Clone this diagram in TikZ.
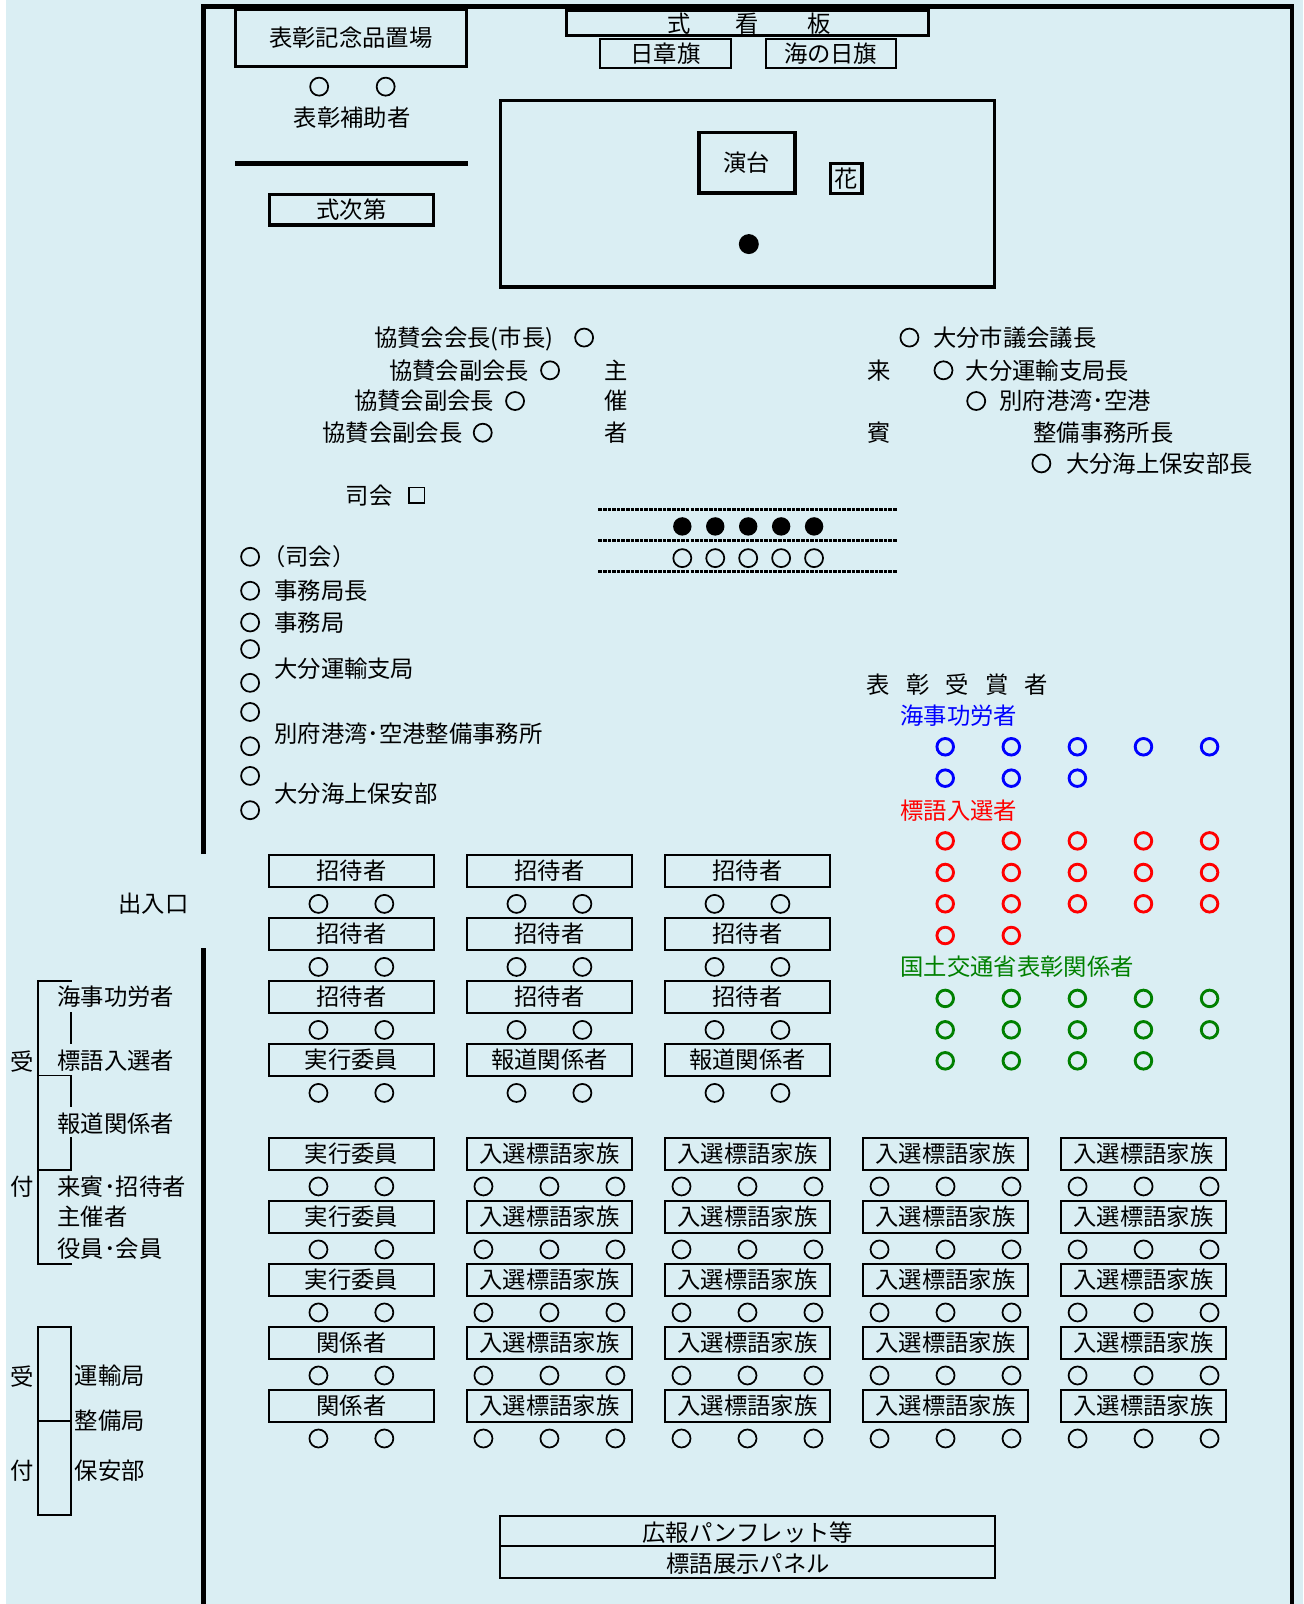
\documentclass[tikz,border=0pt]{standalone}
\usepackage{fontspec}
\setmainfont{Noto Sans CJK JP}
\definecolor{bgblue}{RGB}{218,238,243}
\definecolor{awblue}{RGB}{0,0,255}
\definecolor{awred}{RGB}{255,0,0}
\definecolor{awgreen}{RGB}{0,128,0}
\newcommand\jfs{\fontsize{22.8pt}{27pt}\selectfont}
\tikzset{
  txt/.style={inner sep=0pt, text height=19pt, text depth=1.6pt, font=\jfs},
  wall/.style={line width=4.3pt, line join=miter},
  thickbox/.style={draw, line width=3.3pt, txt},
  thinbox/.style={draw, line width=2pt, txt},
  seat/.style={draw, line width=2pt, minimum width=162pt, minimum height=31pt, txt},
  pers/.style={circle, draw, line width=1.7pt, minimum size=17.6pt, inner sep=0pt},
  award/.style={circle, draw, line width=2.8pt, minimum size=16.2pt, inner sep=0pt},
  fdot/.style={circle, fill, minimum size=18pt, inner sep=0pt},
  rope/.style={line width=3pt, dash pattern=on 3.5pt off 1pt},
  brk/.style={line width=1.8pt},
}
\begin{document}
\begin{tikzpicture}[x=1pt,y=-1pt]
\useasboundingbox (0,0) rectangle (1274,1568);
\fill[white] (0,0) rectangle (1274,1568);
\fill[bgblue] (6,0) rectangle (1274,1568);

% walls
\draw[wall] (198.8,835) -- (198.8,6.2) -- (1263.2,6.2) -- (1263.2,1568);
\draw[wall] (198.8,927) -- (198.8,1568);

% top-left area
\node[thickbox, minimum width=226pt, minimum height=56pt] (kinen) at (343,37) {表彰記念品置場};
\node[pers] (hojo1) at (312,84.7) {};
\node[pers] (hojo2) at (377,84.7) {};
\node[txt] (hojo) at (344.2,114.7) {表彰補助者};
\draw[line width=4.5pt] (229.8,159.7) -- (457.3,159.7);
\node[thickbox, minimum width=160pt, minimum height=30pt] (shidai) at (343.5,205) {式次第};

% signboard and flags
\node[draw, line width=3pt, minimum width=354pt, minimum height=25pt, inner sep=0pt] (kanban) at (730.4,22.3) {};
\node[txt] (k1) at (663.7,22.8) {式};
\node[txt] (k2) at (730.4,22.8) {看};
\node[txt] (k3) at (801,22.8) {板};
\node[thinbox, minimum width=127.7pt, minimum height=28pt] (nissho) at (650.5,52.5) {日章旗};
\node[thinbox, minimum width=127.2pt, minimum height=28pt] (uminohi) at (812,52.5) {海の日旗};

% stage
\node[draw, line width=3.5pt, minimum width=482.7pt, minimum height=182.2pt, inner sep=0pt] (stage) at (730.8,189.4) {};
\node[thickbox, minimum width=94pt, minimum height=59pt] (entai) at (730.2,159) {演台};
\node[draw, line width=3.5pt, minimum width=30.7pt, minimum height=29.2pt, txt] (hana) at (827.1,174.6) {花};
\node[fdot, minimum size=19.5pt] (speaker) at (732,238.6) {};

% hosts (left)
\node[txt, anchor=east] (h1) at (541,330) {協賛会会長(市長)};
\node[pers] (h1c) at (571,330) {};
\node[txt, anchor=east] (h2) at (517.5,362) {協賛会副会長};
\node[pers] (h2c) at (537.7,362) {};
\node[txt, anchor=east] (h3) at (483.3,392) {協賛会副会長};
\node[pers] (h3c) at (503.5,392) {};
\node[txt, anchor=east] (h4) at (452.4,423) {協賛会副会長};
\node[pers] (h4c) at (471.9,423) {};
\node[txt] (sh1) at (602.3,362) {主};
\node[txt] (sh2) at (602.3,392) {催};
\node[txt] (sh3) at (602.3,423) {者};

% guests (right)
\node[txt] (rh1) at (859.4,362) {来};
\node[txt] (rh2) at (859.4,423) {賓};
\node[pers] (g1c) at (889,330) {};
\node[txt, anchor=west] (g1) at (912,330) {大分市議会議長};
\node[pers] (g2c) at (922.3,362) {};
\node[txt, anchor=west] (g2) at (944,362) {大分運輸支局長};
\node[pers] (g3c) at (954.3,392) {};
\node[txt, anchor=west] (g3) at (977,392) {別府港湾･空港};
\node[txt, anchor=west] (g3b) at (1010,423) {整備事務所長};
\node[pers] (g4c) at (1018,453) {};
\node[txt, anchor=west] (g4) at (1042,453) {大分海上保安部長};

% MC
\node[txt] (shikai) at (361,484) {司会};
\node[draw, line width=1.5pt, minimum size=15pt, inner sep=0pt] (shikaibox) at (407.4,484) {};

% front rows
\draw[rope] (585,498) -- (877,498);
\draw[rope] (585,528.6) -- (877,528.6);
\draw[rope] (585,559) -- (877,559);
\foreach \i in {0,...,4} {
  \node[fdot] (fd\i) at (667+32.2*\i,514.6) {};
  \node[pers] (fo\i) at (667+32.2*\i,545.6) {};
}

% staff list
\node[txt, anchor=west] (st1) at (256,544.3) {（司会）};
\node[txt, anchor=west] (st2) at (268,577.5) {事務局長};
\node[txt, anchor=west] (st3) at (268,608.5) {事務局};
\node[txt, anchor=west] (st4) at (268,653.4) {大分運輸支局};
\node[txt, anchor=west] (st5) at (268,717) {別府港湾･空港整備事務所};
\node[txt, anchor=west] (st6) at (268,775.6) {大分海上保安部};
\foreach \y [count=\n] in {544.3,577.5,608.5,634.5,667.5,696,729.5,758.5,792} {
  \node[pers] (sc\n) at (244.5,\y) {};
}

% award recipients
\node[txt] (aw0) at (858.7,669.7) {表};
\node[txt] (aw1) at (897.3,669.7) {彰};
\node[txt] (aw2) at (936,669.7) {受};
\node[txt] (aw3) at (974.5,669.7) {賞};
\node[txt] (aw4) at (1013,669.7) {者};
\node[txt, anchor=west, text=awblue] (kaiji) at (880,699.7) {海事功労者};
\node[txt, anchor=west, text=awred] (hyogo) at (880,792) {標語入選者};
\node[txt, anchor=west, text=awgreen] (kokudo) at (880,945) {国土交通省表彰関係者};
\foreach \i in {0,...,4} { \node[award, awblue] (b1\i) at (924+64.6*\i,730) {}; }
\foreach \i in {0,...,2} { \node[award, awblue] (b2\i) at (924+64.6*\i,760.7) {}; }
\foreach \r/\y in {1/822,2/852.9,3/883.5} {
  \foreach \i in {0,...,4} { \node[award, awred] (r\r\i) at (924+64.6*\i,\y) {}; }
}
\foreach \i in {0,1} { \node[award, awred] (r4\i) at (924+64.6*\i,914.5) {}; }
\foreach \r/\y in {1/976,2/1006.7} {
  \foreach \i in {0,...,4} { \node[award, awgreen] (gr\r\i) at (924+64.6*\i,\y) {}; }
}
\foreach \i in {0,...,3} { \node[award, awgreen] (gr3\i) at (924+64.6*\i,1037) {}; }

% entrance
\node[txt] (deiri) at (150,883.2) {出入口};

% upper seating block
\foreach \k/\la/\lb/\lc/\ld in {0/招待者/招待者/招待者/実行委員, 1/招待者/招待者/招待者/報道関係者, 2/招待者/招待者/招待者/報道関係者} {
  \foreach \j/\lab in {0/\la,1/\lb,2/\lc,3/\ld} {
    \pgfmathsetmacro\cx{343.5+193.6*\k}
    \pgfmathsetmacro\yb{851.3+61.6*\j}
    \node[seat] (u\k\j) at (\cx,\yb) {\lab};
    \node[pers] (u\k\j a) at (\cx-32.2,\yb+32.3) {};
    \node[pers] (u\k\j b) at (\cx+32.2,\yb+32.3) {};
  }
}

% lower seating block
\foreach \j/\lab in {0/実行委員,1/実行委員,2/実行委員,3/関係者,4/関係者} {
  \pgfmathsetmacro\yb{1128+61.6*\j}
  \node[seat] (l0\j) at (343.5,\yb) {\lab};
  \node[pers] (l0\j a) at (343.5-32.2,\yb+31.8) {};
  \node[pers] (l0\j b) at (343.5+32.2,\yb+31.8) {};
}
\foreach \k in {1,...,4} {
  \foreach \j in {0,...,4} {
    \pgfmathsetmacro\cx{343.5+193.6*\k}
    \pgfmathsetmacro\yb{1128+61.6*\j}
    \node[seat] (l\k\j) at (\cx,\yb) {入選標語家族};
    \node[pers] (l\k\j a) at (\cx-64.5,\yb+31.8) {};
    \node[pers] (l\k\j b) at (\cx,\yb+31.8) {};
    \node[pers] (l\k\j c) at (\cx+64.5,\yb+31.8) {};
  }
}

% bottom panels
\node[thinbox, minimum width=483.5pt, minimum height=30pt] (pamph) at (730.7,1496.6) {};
\node[thinbox, minimum width=483.5pt, minimum height=30.5pt] (panel) at (730.7,1526.9) {};
\node[txt] (pamphtxt) at (731,1498.5) {広報パンフレット等};
\node[txt] (paneltxt) at (731.3,1528.6) {標語展示パネル};

% reception legend 1
\draw[brk] (70,958.8) -- (36.8,958.8) -- (36.8,1235.8) -- (70,1235.8);
\draw[brk] (69.1,989.4) -- (69.1,1020.1);
\draw[brk] (36.8,1051.3) -- (69.1,1051.3) -- (69.1,1082);
\draw[brk] (69.1,1111.3) -- (69.1,1143.9) -- (36.8,1143.9);
\node[txt] (uke1) at (21.2,1038) {受};
\node[txt] (tsuke1) at (21.2,1160.2) {付};
\node[txt, anchor=west] (lg1) at (56,974.5) {海事功労者};
\node[txt, anchor=west] (lg2) at (56,1036.4) {標語入選者};
\node[txt, anchor=west] (lg3) at (56,1098.3) {報道関係者};
\node[txt, anchor=west] (lg4) at (56,1160.2) {来賓･招待者};
\node[txt, anchor=west] (lg5) at (56,1189.5) {主催者};
\node[txt, anchor=west] (lg6) at (56,1220.5) {役員･会員};

% reception legend 2
\draw[brk] (36.9,1297) rectangle (69.3,1481);
\draw[brk] (36.9,1389) -- (69.3,1389);
\node[txt] (uke2) at (21.2,1346) {受};
\node[txt] (tsuke2) at (21.2,1438) {付};
\node[txt, anchor=west] (lm1) at (73,1344.4) {運輸局};
\node[txt, anchor=west] (lm2) at (73,1388.4) {整備局};
\node[txt, anchor=west] (lm3) at (73,1437.2) {保安部};
\end{tikzpicture}
\end{document}
